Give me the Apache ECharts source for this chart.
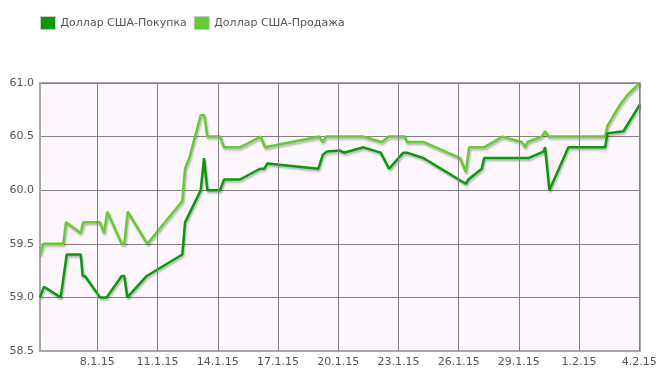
<!DOCTYPE html>
<html>
<head>
<meta charset="utf-8">
<script src="https://cdn.jsdelivr.net/npm/echarts@6/dist/echarts.min.js"></script>
<style>html,body{margin:0;padding:0;background:#fff}#c{width:664px;height:380px}</style>
</head>
<body>
<div id="c"></div>
<script>
const seriesNames = ["Доллар США-Покупка", "Доллар США-Продажа"];
const xTickDates = ["2015-01-08 00:00","2015-01-11 00:00","2015-01-14 00:00","2015-01-17 00:00","2015-01-20 00:00","2015-01-23 00:00","2015-01-26 00:00","2015-01-29 00:00","2015-02-01 00:00","2015-02-04 00:00"];
const xRange = ["2015-01-05 03:29", "2015-02-04 00:50"];
const yTicks = [58.5, 59.0, 59.5, 60.0, 60.5, 61.0];

const buyTimes = ["2015-01-05 03:29","2015-01-05 08:15","2015-01-06 04:13","2015-01-06 11:24","2015-01-07 04:09","2015-01-07 06:33","2015-01-07 09:17","2015-01-08 03:14","2015-01-08 11:14","2015-01-09 05:11","2015-01-09 08:17","2015-01-09 11:52","2015-01-10 11:04","2015-01-12 05:38","2015-01-12 08:53","2015-01-13 03:39","2015-01-13 07:35","2015-01-13 11:32","2015-01-14 02:44","2015-01-14 07:30","2015-01-15 02:38","2015-01-16 02:34","2015-01-16 07:42","2015-01-16 11:17","2015-01-19 00:16","2015-01-19 05:32","2015-01-19 10:19","2015-01-20 02:14","2015-01-20 07:00","2015-01-21 06:06","2015-01-22 02:52","2015-01-22 12:48","2015-01-23 05:55","2015-01-23 09:59","2015-01-24 05:50","2015-01-26 08:33","2015-01-26 11:40","2015-01-27 03:40","2015-01-27 06:25","2015-01-29 11:24","2015-01-30 05:20","2015-01-30 07:21","2015-01-30 12:30","2015-01-31 11:14","2015-02-02 07:08","2015-02-02 09:52","2015-02-03 05:00","2015-02-04 00:50"];
const buyValues = [59.0,59.1,59.0,59.4,59.4,59.2,59.2,59.0,59.0,59.2,59.2,59.0,59.2,59.4,59.7,60.0,60.3,60.0,60.0,60.1,60.1,60.2,60.2,60.25,60.2,60.33,60.36,60.37,60.35,60.4,60.35,60.2,60.35,60.35,60.3,60.06,60.1,60.2,60.3,60.3,60.36,60.4,60.0,60.4,60.4,60.53,60.55,60.8];

const sellTimes = ["2015-01-05 03:29","2015-01-05 07:26","2015-01-06 07:20","2015-01-06 10:34","2015-01-07 04:09","2015-01-07 07:15","2015-01-08 03:14","2015-01-08 08:01","2015-01-08 11:57","2015-01-09 05:11","2015-01-09 08:17","2015-01-09 12:22","2015-01-10 11:47","2015-01-12 05:38","2015-01-12 08:53","2015-01-12 14:00","2015-01-13 03:39","2015-01-13 07:56","2015-01-13 11:32","2015-01-14 02:44","2015-01-14 07:30","2015-01-15 02:38","2015-01-16 03:24","2015-01-16 08:33","2015-01-19 01:28","2015-01-19 05:04","2015-01-19 09:29","2015-01-21 06:06","2015-01-22 04:05","2015-01-22 12:48","2015-01-23 07:57","2015-01-23 09:59","2015-01-24 05:50","2015-01-26 01:44","2015-01-26 08:33","2015-01-26 12:29","2015-01-27 06:25","2015-01-28 04:19","2015-01-29 03:30","2015-01-29 07:26","2015-01-29 10:12","2015-01-30 03:24","2015-01-30 07:21","2015-01-30 11:20","2015-02-02 07:08","2015-02-02 09:52","2015-02-03 01:03","2015-02-03 11:00","2015-02-04 00:50"];
const sellValues = [59.4,59.5,59.5,59.7,59.6,59.7,59.7,59.6,59.8,59.5,59.5,59.8,59.5,59.9,60.2,60.3,60.7,60.7,60.5,60.5,60.4,60.4,60.5,60.4,60.5,60.45,60.5,60.5,60.45,60.5,60.5,60.45,60.45,60.3,60.17,60.4,60.4,60.5,60.45,60.4,60.45,60.5,60.55,60.5,60.5,60.6,60.8,60.9,61.0];

const colors = ["#0b990b", "#66cc33"];
const ORIGIN = Date.UTC(2015, 0, 2);
function toDay(s) {
  const [d, t] = s.split(" ");
  const [Y, M, D] = d.split("-").map(Number);
  const [h, m] = t.split(":").map(Number);
  return (Date.UTC(Y, M - 1, D, h, m) - ORIGIN) / 86400000;
}
function fmtDay(v) {
  const d = new Date(ORIGIN + Math.round(v * 24) * 3600000);
  return d.getUTCDate() + "." + (d.getUTCMonth() + 1) + "." + String(d.getUTCFullYear()).slice(2);
}
const tickVals = xTickDates.map(toDay);
const yMin = yTicks[0], yMax = yTicks[yTicks.length - 1];
const pairs = (ts, vs) => ts.map((t, i) => [toDay(t), vs[i]]);

const chart = echarts.init(document.getElementById("c"), null, {renderer: "canvas"});
const lineSeries = (name, ts, vs, color, extra) => Object.assign({
  name: name, type: "line", data: pairs(ts, vs), symbol: "none", showSymbol: false, smooth: false,
  lineStyle: {width: 2.5, color: color, shadowColor: "rgba(0,0,0,0.28)", shadowBlur: 2, shadowOffsetX: 1, shadowOffsetY: 2},
  itemStyle: {color: color}, animation: false
}, extra || {});

chart.setOption({
  animation: false,
  textStyle: {fontFamily: "DejaVu Sans"},
  legend: {
    left: 35, top: 11, itemWidth: 15, itemHeight: 13, itemGap: 7,
    icon: "rect",
    itemStyle: {borderColor: "#c8c8c8", borderWidth: 1},
    textStyle: {fontSize: 11, color: "#555", fontFamily: "DejaVu Sans"},
    data: seriesNames
  },
  grid: {left: 40, right: 24, top: 83, bottom: 29, show: true, backgroundColor: "#fdf7fd", borderColor: "#a8a8a8", borderWidth: 2},
  xAxis: {
    type: "value",
    min: toDay(xRange[0]), max: toDay(xRange[1]),
    axisLine: {show: true, lineStyle: {color: "#a8a8a8", width: 2}},
    axisTick: {show: false, customValues: tickVals},
    axisLabel: {customValues: tickVals, formatter: fmtDay, color: "#555", fontSize: 11, margin: 6, fontFamily: "DejaVu Sans"},
    splitLine: {show: false}
  },
  yAxis: {
    type: "value", min: yMin, max: yMax, interval: 0.5,
    axisLine: {show: true, lineStyle: {color: "#a8a8a8", width: 2}},
    axisTick: {show: false},
    axisLabel: {formatter: v => v.toFixed(1), color: "#555", fontSize: 11, margin: 6, fontFamily: "DejaVu Sans"},
    splitLine: {show: true, lineStyle: {color: "#808080", width: 1}}
  },
  series: [
    lineSeries(seriesNames[0], buyTimes, buyValues, colors[0], {z: 3}),
    lineSeries(seriesNames[1], sellTimes, sellValues, colors[1], {z: 2}),
    {
      name: "grid-x", type: "line", data: [], silent: true, z: 1, legendHoverLink: false,
      markLine: {
        silent: true, symbol: ["none", "none"], label: {show: false}, animation: false,
        lineStyle: {color: "#808080", width: 1, type: "solid"},
        emphasis: {disabled: true},
        data: tickVals.map(v => [{coord: [v, yMin]}, {coord: [v, yMax]}])
      }
    }
  ]
});
</script>
</body>
</html>
